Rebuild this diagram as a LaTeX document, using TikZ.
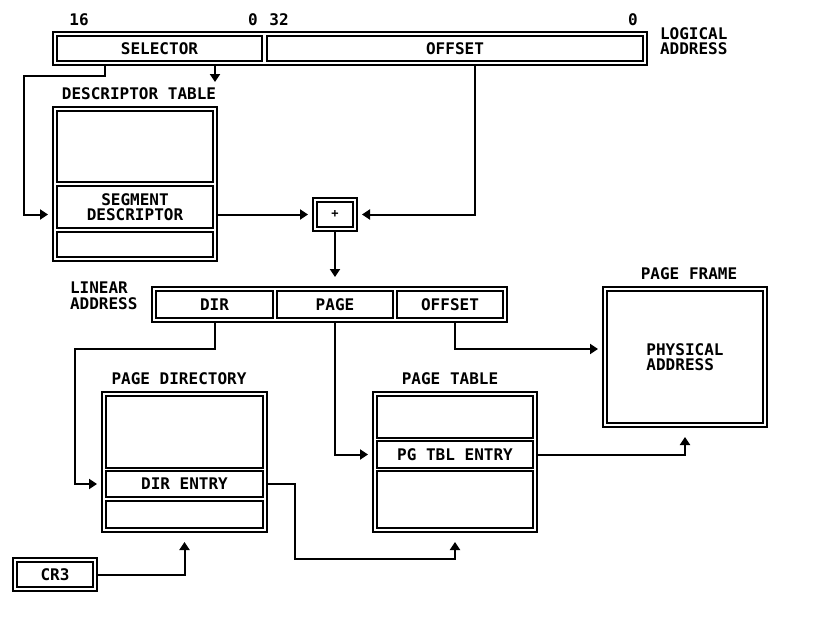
\documentclass[tikz,border=0pt]{standalone}
\usepackage{fontspec}
\setmonofont{DejaVu Sans Mono}
\usepackage{tikz}
\usetikzlibrary{positioning, arrows.meta, fit}

\begin{document}
\begin{tikzpicture}[
        x=1pt, y=-1pt,
        font=\ttfamily\bfseries\fontsize{16}{15.5}\selectfont,
        >={Triangle[length=8pt, width=10pt]},
        cell/.style={draw, line width=1.8pt, inner sep=0pt, outer sep=0pt, align=center},
        frame/.style={draw, line width=1.8pt, inner sep=4pt, outer sep=0pt},
        lbl/.style={inner sep=0pt, outer sep=0pt, align=left},
        conn/.style={->, line width=2pt},
        hconn/.style={conn, shorten >=5pt},
        vconn/.style={conn, shorten >=10pt}]
        \useasboundingbox (0,0) rectangle (838,622);
        % logical address
        \node[cell, minimum width=205pt, minimum height=25pt] (sel) at (159.5,48.5) {SELECTOR};
        \node[cell, minimum width=376pt, minimum height=25pt] (loff) at (455,48.5) {OFFSET};
        \node[frame, fit=(sel)(loff)] (logic) {};
        \node[lbl] (b16) at (79,20) {16};
        \node[lbl] (b0a) at (253,20) {0};
        \node[lbl] (b32) at (279,20) {32};
        \node[lbl] (b0b) at (633,20) {0};
        \node[lbl, anchor=west] (logtxt) at (660,41) {LOGICAL\\ADDRESS};
        % descriptor table
        \node[cell, minimum width=156pt, minimum height=71pt] (dtop) at (135,146.5) {};
        \node[cell, minimum width=156pt, minimum height=42pt] (dseg) at (135,207) {SEGMENT\\DESCRIPTOR};
        \node[cell, minimum width=156pt, minimum height=25pt] (dbot) at (135,244.5) {};
        \node[frame, fit=(dtop)(dbot)] (dtab) {};
        \node[lbl] (dtabtxt) at (139,94) {DESCRIPTOR TABLE};
        % adder
        \node[cell, minimum width=36pt, minimum height=25pt,
              font=\ttfamily\bfseries\fontsize{12}{12}\selectfont] (plusin) at (335,214.5) {+};
        \node[frame, fit=(plusin)] (plus) {};
        % linear address
        \node[cell, minimum width=117pt, minimum height=27pt] (ldir) at (214.5,304.5) {DIR};
        \node[cell, minimum width=116pt, minimum height=27pt] (lpage) at (335,304.5) {PAGE};
        \node[cell, minimum width=106pt, minimum height=27pt] (lofs) at (450,304.5) {OFFSET};
        \node[frame, fit=(ldir)(lofs)] (lin) {};
        \node[lbl, anchor=west] (lintxt) at (70,296) {LINEAR\\ADDRESS};
        % page directory
        \node[cell, minimum width=157pt, minimum height=72pt] (pdtop) at (184.5,432) {};
        \node[cell, minimum width=157pt, minimum height=26pt] (pdent) at (184.5,484) {DIR ENTRY};
        \node[cell, minimum width=157pt, minimum height=27pt] (pdbot) at (184.5,514.5) {};
        \node[frame, fit=(pdtop)(pdbot)] (pdir) {};
        \node[lbl] (pdirtxt) at (179,379) {PAGE DIRECTORY};
        % page table
        \node[cell, minimum width=156pt, minimum height=42pt] (pttop) at (455,417) {};
        \node[cell, minimum width=156pt, minimum height=27pt] (ptent) at (455,454.5) {PG TBL ENTRY};
        \node[cell, minimum width=156pt, minimum height=57pt] (ptbot) at (455,499.5) {};
        \node[frame, fit=(pttop)(ptbot)] (ptab) {};
        \node[lbl] (ptabtxt) at (450,379) {PAGE TABLE};
        % page frame
        \node[cell, align=left, minimum width=156pt, minimum height=132pt] (pfin) at (685,357) {PHYSICAL\\ADDRESS};
        \node[frame, fit=(pfin)] (pfr) {};
        \node[lbl] (pfrtxt) at (689,274) {PAGE FRAME};
        % cr3
        \node[cell, minimum width=76pt, minimum height=25pt] (cr3in) at (55,574.5) {CR3};
        \node[frame, fit=(cr3in)] (cr3) {};
        % connectors
        \draw[hconn] ([xshift=-245pt]logic.south) |- (24,76) |- (dtab.west |- plus);
        \draw[conn] ([xshift=-135pt]logic.south) -- ++(0,17);
        \draw[hconn] ([xshift=125pt]logic.south) |- (plus.east);
        \draw[hconn] (dtab.east |- plus) -- (plus.west);
        \draw[vconn] (plus.south) -- (plus.south |- lin.north);
        \draw[hconn] (lin.south -| ldir) |- (75,349) |- (pdir.west |- pdent);
        \draw[hconn] (lin.south -| lpage) |- (ptab.west |- ptent);
        \draw[hconn] ([xshift=125.5pt]lin.south) |- ([yshift=8pt]pfr.west);
        \draw[vconn] (ptab.east |- ptent) -| (pfr.south);
        \draw[vconn] (pdir.east |- pdent) -| (295,559) -| (ptab.south);
        \draw[vconn] (cr3.east) -| (pdir.south);
\end{tikzpicture}
\end{document}
